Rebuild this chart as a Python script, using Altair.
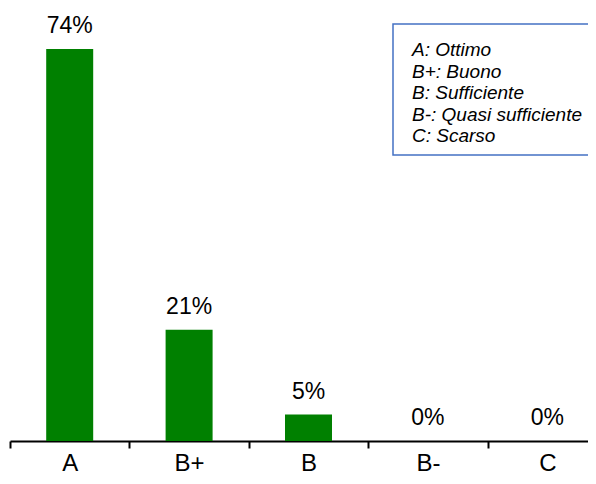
import altair as alt
import pandas as pd

grades = ["A", "B+", "B", "B-", "C"]
percent = [74, 21, 5, 0, 0]
legend_lines = ["A: Ottimo", "B+: Buono", "B: Sufficiente", "B-: Quasi sufficiente", "C: Scarso"]

df = pd.DataFrame({"grade": grades, "pct": percent})
df["label"] = df["pct"].astype(str) + "%"

FONT = "Liberation Sans"

x = alt.X(
    "grade:N", sort=grades,
    scale=alt.Scale(range=[0, 597], paddingInner=0, paddingOuter=0),
    axis=alt.Axis(title=None, labelAngle=0, labelFontSize=24, labelColor="black", labelFont=FONT,
                  domainColor="black", domainWidth=2, tickColor="black", tickWidth=2, tickSize=7,
                  tickBand="extent", labelPadding=3, grid=False),
)
y = alt.Y("pct:Q", scale=alt.Scale(domain=[0, 74], nice=False), axis=None)

bars = alt.Chart(df).mark_bar(color="#008000", size=47).encode(x=x, y=y)
text = alt.Chart(df).mark_text(fontSize=23, font=FONT, color="black", dy=-16,
                               baseline="alphabetic").encode(x=x, y=y, text="label:N")

box_df = pd.DataFrame({"t": ["\n".join(legend_lines)]})
box = alt.Chart(box_df).mark_rect(fill="white", stroke="#4472C4", strokeWidth=1.5).encode(
    x=alt.value(383), x2=alt.value(584), y=alt.value(-25), y2=alt.value(106))
box_text = alt.Chart(box_df).mark_text(align="left", baseline="top", fontStyle="italic", fontSize=19,
                                       lineHeight=21.5, font=FONT, color="black",
                                       lineBreak="\n").encode(
    x=alt.value(402), y=alt.value(-8), text="t:N")

chart = alt.layer(bars, text, box, box_text).properties(
    width=578, height=392,
    autosize=alt.AutoSizeParams(type="none"),
    padding={"left": 2, "top": 41, "right": 0, "bottom": 35},
).configure_view(stroke=None)

chart.save("out.html", embed_options={"renderer": "svg", "actions": False})
